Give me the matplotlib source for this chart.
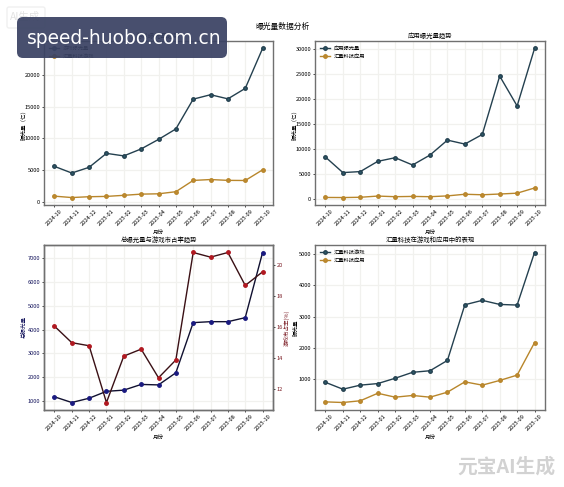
import matplotlib
matplotlib.use('Agg')
import matplotlib.pyplot as plt
from matplotlib.patches import FancyBboxPatch

plt.rcParams['font.family'] = ['Noto Sans CJK SC', 'DejaVu Sans']
plt.rcParams['axes.unicode_minus'] = False

months = ['2024-10','2024-11','2024-12','2025-01','2025-02','2025-03','2025-04',
          '2025-05','2025-06','2025-07','2025-08','2025-09','2025-10']
game_total = [5600,4550,5450,7650,7250,8350,9850,11500,16200,16900,16250,17900,24200]
game_hl = [900,680,810,860,1030,1220,1270,1600,3380,3520,3390,3370,5050]
app_total = [8360,5250,5450,7500,8230,6770,8760,11750,10960,12880,24570,18590,30100]
app_hl = [275,255,310,550,425,480,425,585,915,810,960,1130,2170]
hl_total = [1170,930,1110,1400,1450,1690,1670,2180,4290,4330,4330,4500,7240]
share = [16.04,14.97,14.77,11.1,14.1,14.55,12.7,13.85,20.8,20.5,20.8,18.67,19.55]

DARK = '#24404f'
ORANGE = '#b8862b'
NAVY = '#14145c'
RED = '#7a1a22'
W, H = 564, 487
TICK = 4.1
LAB = 4.0

fig = plt.figure(figsize=(W/100, H/100), dpi=100, facecolor='white')

def mk(l, t, r, b):
    return fig.add_axes([l/W, 1-b/H, (r-l)/W, (b-t)/H])

def style(ax, title, ylabel, label_px):
    box_l = ax.get_position().x0 * W
    box_w = ax.get_position().width * W
    ax.set_title(title, fontsize=4.6, pad=2.5)
    ax.set_xlabel('月份', fontsize=LAB)
    ax.xaxis.set_label_coords(0.5, -24.5/164)
    ax.set_ylabel(ylabel, fontsize=LAB)
    ax.yaxis.set_label_coords((label_px - box_l)/box_w, 0.5)
    ax.tick_params(axis='both', labelsize=TICK, length=1.5, width=0.5, pad=1.2)
    ax.tick_params(axis='x', rotation=45)
    ax.grid(True, color='#f1f1ee', linewidth=0.9)
    for s in ax.spines.values():
        s.set_color('#707070')
        s.set_linewidth(1.0)

def two(ax, a, b, la, lb, title, ylabel, label_px):
    ax.plot(months, a, color=DARK, lw=1.0, marker='o', ms=2.5, label=la, mfc='#2d5a6a')
    ax.plot(months, b, color=ORANGE, lw=1.0, marker='o', ms=2.5, label=lb, mfc='#c08a30')
    style(ax, title, ylabel, label_px)
    ax.legend(loc='upper left', fontsize=3.8, frameon=False, borderaxespad=0.5,
              labelspacing=0.5, handlelength=2.0, handletextpad=0.7)

ax1 = mk(44, 41, 273, 205)
two(ax1, game_total, game_hl, '游戏曝光量', '汇量科技游戏', '游戏曝光量趋势', '曝光量（亿）', 26)
ax1.set_yticks([0,5000,10000,15000,20000])

ax2 = mk(315, 41, 545, 205)
two(ax2, app_total, app_hl, '应用曝光量', '汇量科技应用', '应用曝光量趋势', '曝光量（亿）', 297)
ax2.set_yticks([0,5000,10000,15000,20000,25000,30000])

ax3 = mk(44, 245, 273, 410)
ax3.plot(months, hl_total, color='#101030', lw=1.0, marker='o', ms=2.5, mfc='#1a1a80', mec='#1a1a80')
style(ax3, '总曝光量与游戏市占率趋势', '总曝光量', 27)
ax3.yaxis.label.set_color(NAVY)
ax3.tick_params(axis='y', labelcolor=NAVY)
ax3.set_yticks([1000,2000,3000,4000,5000,6000,7000])
ax3b = ax3.twinx()
ax3b.plot(months, share, color='#3a1015', lw=1.0, marker='o', ms=2.5, mfc='#b01820', mec='#b01820')
ax3b.set_ylabel('游戏市占率(%)', fontsize=LAB, color=RED)
ax3b.yaxis.set_label_coords((284-44)/229, 0.5)
ax3b.tick_params(axis='y', labelsize=TICK, length=1.5, width=0.5, pad=1.2, labelcolor=RED)
ax3b.set_yticks([12,14,16,18,20])
for s in ax3b.spines.values():
    s.set_color('#707070')
    s.set_linewidth(1.0)

ax4 = mk(315, 245, 545, 410)
two(ax4, game_hl, app_hl, '汇量科技游戏', '汇量科技应用', '汇量科技在游戏和应用中的表现', '曝光量', 299)
ax4.set_yticks([1000,2000,3000,4000,5000])

fig.text(282/W, 1-27/H, '曝光量数据分析', fontsize=5.6, ha='center', va='center')

# overlay banner and watermarks present on the source picture
ov = fig.add_axes([0, 0, 1, 1], zorder=20)
ov.set_xlim(0, W); ov.set_ylim(H, 0); ov.axis('off')
ov.add_patch(FancyBboxPatch((17, 17), 210, 41, boxstyle='round,pad=0,rounding_size=6',
                            fc='#3a4263', ec='none', alpha=0.93, mutation_aspect=1))
ov.text(27, 38.5, 'speed-huobo.com.cn', color='white', fontsize=13.4, va='center', ha='left',
        family='DejaVu Sans')
ov.add_patch(FancyBboxPatch((7, 7), 38, 21, boxstyle='round,pad=0,rounding_size=2',
                            fc='none', ec='#f0f0f0', lw=1, zorder=0))
ov.text(10, 17, 'AI生成', color='#e2e2e2', fontsize=7.5, va='center', ha='left', zorder=0)
ov.text(457, 467, '元宝AI生成', color='#d2d2d2', fontsize=14.2, va='center', ha='left', weight='bold')

fig.savefig('out.png', dpi=100)
